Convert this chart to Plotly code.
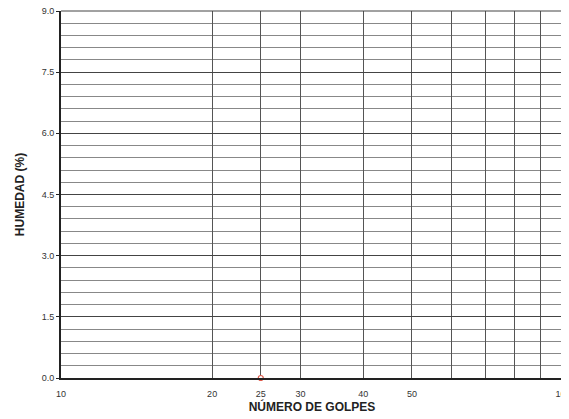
import plotly.graph_objects as go

golpes = [25]
humedad = [0.0]

x_ticks = [10, 20, 25, 30, 40, 50, 60, 70, 80, 90, 100]
x_labels = ['10', '20', '25', '30', '40', '50', '', '', '', '', '100']
y_ticks = [0, 1.5, 3.0, 4.5, 6.0, 7.5, 9.0]
y_labels = ['0.0', '1.5', '3.0', '4.5', '6.0', '7.5', '9.0']

fig = go.Figure()
fig.add_trace(go.Scatter(x=golpes, y=humedad, mode='markers',
                         marker=dict(size=5, color='white', line=dict(color='#e05a4a', width=1.2)),
                         cliponaxis=False, showlegend=False))

fig.update_xaxes(type='log', range=[1, 2], tickvals=x_ticks, ticktext=x_labels,
                 automargin=False, ticklabeloverflow='allow',
                 showgrid=True, gridcolor='#555555', gridwidth=1,
                 showline=True, linecolor='#222222', linewidth=2,
                 ticks='', ticklabelstandoff=6,
                 tickfont=dict(size=9, color='#333333', family='Liberation Sans'),
                 title=dict(text='<b>NÚMERO DE GOLPES</b>', standoff=2,
                            font=dict(size=12, color='#222222', family='Liberation Sans Narrow, Liberation Sans')),
                 zeroline=False)
fig.update_yaxes(range=[0, 9], tickvals=y_ticks, ticktext=y_labels,
                 automargin=False, ticklabeloverflow='allow',
                 showgrid=True, gridcolor='#444444', gridwidth=1,
                 minor=dict(dtick=0.3, showgrid=True, gridcolor='#888888', gridwidth=1),
                 showline=True, linecolor='#222222', linewidth=2,
                 ticks='outside', ticklen=3, tickcolor='#222222',
                 tickfont=dict(size=9, color='#333333', family='Liberation Sans'),
                 title=dict(text='<b>HUMEDAD (%)</b>', standoff=14,
                            font=dict(size=12, color='#222222', family='Liberation Sans Narrow, Liberation Sans')),
                 zeroline=False)

# thin frame on top and right, like the outer grid lines
fig.add_shape(type='line', xref='paper', yref='paper', x0=0, x1=1, y0=1, y1=1,
              line=dict(color='#444444', width=1))
fig.add_shape(type='line', xref='paper', yref='paper', x0=1, x1=1, y0=0, y1=1,
              line=dict(color='#555555', width=1))

# page body has an 8px margin, so the figure is sized and offset for it
fig.update_layout(width=561, height=411, margin=dict(l=53, r=6, t=3, b=41),
                  plot_bgcolor='white', paper_bgcolor='white')
fig.write_html("out.html")
